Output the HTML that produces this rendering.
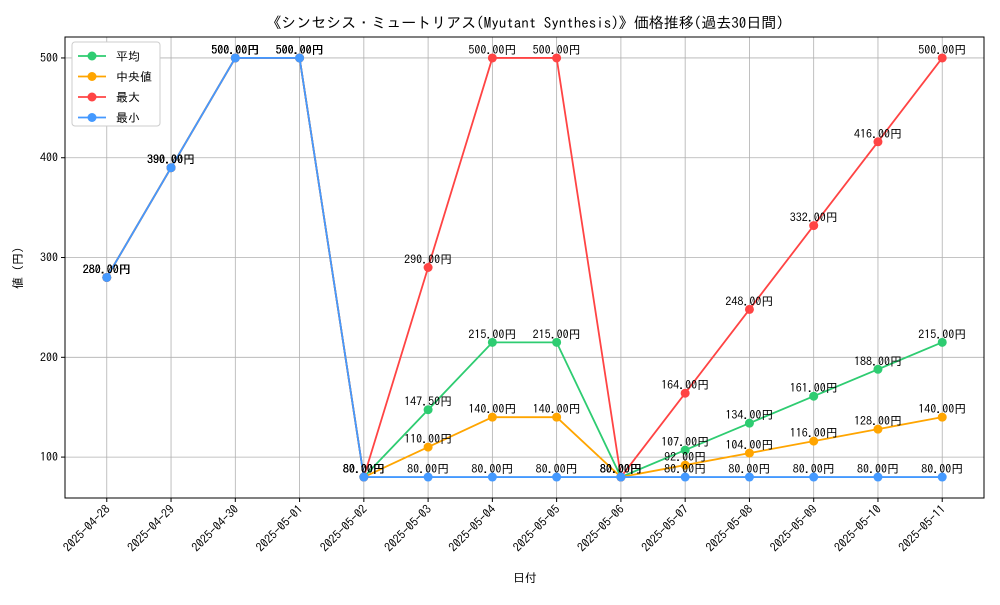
<!DOCTYPE html>
<html><head><meta charset="utf-8"><style>
body{margin:0;background:#fff;}
svg text{font-family:"IPAGothic","Noto Sans CJK JP",sans-serif;}
</style></head><body>
<svg id="chart" width="1000" height="600" xmlns="http://www.w3.org/2000/svg">
<text x="525" y="28" text-anchor="middle" font-size="15">《シンセシス・ミュートリアス(Myutant Synthesis)》価格推移(過去30日間)</text>
<g id="grid"></g>
<g id="series"></g>
<g id="labels"></g>
<rect x="65" y="37" width="919" height="461" fill="none" stroke="#000" stroke-width="1"/>
<g id="axes"></g>
<text x="22" y="268" font-size="12" text-anchor="middle" transform="rotate(-90 22 268)">値 (円)</text>
<text x="525" y="582" font-size="12" text-anchor="middle">日付</text>
<g id="legend">
<rect x="72" y="42" width="88" height="84" fill="#fff" stroke="#ccc" rx="3"/>
</g>
</svg>
<script>
const dates=["2025-04-28","2025-04-29","2025-04-30","2025-05-01","2025-05-02","2025-05-03","2025-05-04","2025-05-05","2025-05-06","2025-05-07","2025-05-08","2025-05-09","2025-05-10","2025-05-11"];
const avgVals=[280,390,500,500,80,147.5,215,215,80,107,134,161,188,215];
const medVals=[280,390,500,500,80,110,140,140,80,92,104,116,128,140];
const maxVals=[280,390,500,500,80,290,500,500,80,164,248,332,416,500];
const minVals=[280,390,500,500,80,80,80,80,80,80,80,80,80,80];
const yTicks=[100,200,300,400,500];
const seriesNames=["平均","中央値","最大","最小"];
const NS="http://www.w3.org/2000/svg";
const X0=65,X1=984,Y0=37,Y1=498;
const xMin=-0.65,xMax=13.65,yMin=59,yMax=521;
function xs(i){return X0+(i-xMin)/(xMax-xMin)*(X1-X0);}
function ys(v){return Y1-(v-yMin)/(yMax-yMin)*(Y1-Y0);}
function mk(t,a,p){const e=document.createElementNS(NS,t);for(const k in a)e.setAttribute(k,a[k]);p.appendChild(e);return e;}
const grid=document.getElementById('grid'),axes=document.getElementById('axes');
dates.forEach((d,i)=>{
  const x=xs(i);
  const gl=mk('line',{x1:x,x2:x,y1:Y0,y2:Y1,stroke:'#b0b0b0','stroke-width':0.8},grid);
  
  
  mk('line',{x1:x,x2:x,y1:Y1,y2:Y1+4,stroke:'#000'},axes);
  const t=mk('text',{x:x+4,y:Y1+12,'font-size':12,'text-anchor':'end',transform:`rotate(-45 ${x+4} ${Y1+12})`},axes);
  t.textContent=d;
  
  
});
yTicks.forEach(v=>{
  const y=ys(v);
  const gl=mk('line',{x1:X0,x2:X1,y1:y,y2:y,stroke:'#b0b0b0','stroke-width':0.8},grid);
  
  
  mk('line',{x1:X0-4,x2:X0,y1:y,y2:y,stroke:'#000'},axes);
  const t=mk('text',{x:X0-7,y:y+4,'font-size':12,'text-anchor':'end'},axes);
  t.textContent=v;
  
  
});
const all=[avgVals,medVals,maxVals,minVals];
const colors=["#2ecc71","#ffa500","#ff4444","#4499ff"];
const keys=["avg","median","max","min"];
const sg=document.getElementById('series'),lg=document.getElementById('labels');
all.forEach((vals,s)=>{
  const g=mk('g',{},sg);
  
  
  mk('polyline',{points:vals.map((v,i)=>xs(i)+','+ys(v)).join(' '),fill:'none',stroke:colors[s],'stroke-width':1.8},g);
  vals.forEach((v,i)=>{
    const c=mk('circle',{cx:xs(i),cy:ys(v),r:4.5,fill:colors[s]},g);
    
    
    const t=mk('text',{x:xs(i),y:ys(v)-4,'font-size':12,'text-anchor':'middle'},lg);
    t.textContent=v.toFixed(2)+'円';
    
    
  });
});
const leg=document.getElementById('legend');
seriesNames.forEach((n,k)=>{
  const y=56+k*20.5;
  const e=mk('g',{},leg);
  
  
  mk('line',{x1:78,x2:106,y1:y,y2:y,stroke:colors[k],'stroke-width':1.8},e);
  mk('circle',{cx:92,cy:y,r:4.5,fill:colors[k]},e);
  const t=mk('text',{x:116,y:y+4.5,'font-size':12},e);
  t.textContent=n;
});
</script>
</body></html>
